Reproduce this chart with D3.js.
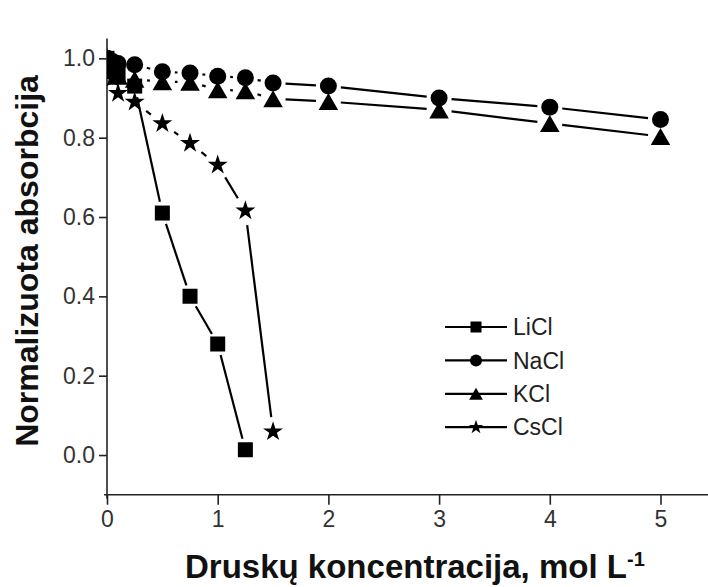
<!DOCTYPE html>
<html>
<head>
<meta charset="utf-8">
<script src="https://cdn.jsdelivr.net/npm/d3@7/dist/d3.min.js"></script>
<style>
  html, body { margin: 0; padding: 0; background: #fff; }
  svg { display: block; }
</style>
</head>
<body>
<svg id="chart" width="708" height="587"></svg>
<script>
// Salt concentration (mol/L) at which absorbance was measured
const concLong  = [0, 0.05, 0.1, 0.25, 0.5, 0.75, 1, 1.25, 1.5, 2, 3, 4, 5];
const concLi    = [0, 0.05, 0.1, 0.25, 0.5, 0.75, 1, 1.25];
const concCs    = [0, 0.05, 0.1, 0.25, 0.5, 0.75, 1, 1.25, 1.5];

// Normalised absorbance for each salt
const liclValues = [1.0, 0.98, 0.96, 0.93, 0.61, 0.40, 0.28, 0.013];
const naclValues = [1.0, 0.992, 0.987, 0.984, 0.966, 0.963, 0.955, 0.951, 0.938, 0.930, 0.900, 0.877, 0.846];
const kclValues  = [1.0, 0.97, 0.955, 0.947, 0.941, 0.940, 0.921, 0.918, 0.898, 0.891, 0.870, 0.836, 0.803];
const csclValues = [1.0, 0.95, 0.912, 0.890, 0.836, 0.786, 0.731, 0.616, 0.059];

const seriesNames = ["LiCl", "NaCl", "KCl", "CsCl"];

// Axis ticks
const xMajorTicks = [0, 1, 2, 3, 4, 5];
const xMinorTicks = [0.5, 1.5, 2.5, 3.5, 4.5];
const yMajorTicks = [0, 0.2, 0.4, 0.6, 0.8, 1.0];
const yMinorTicks = [0.1, 0.3, 0.5, 0.7, 0.9];

const xTitle = "Druskų koncentracija, mol L";
const xTitleSup = "-1";
const yTitle = "Normalizuota absorbcija";

const svg = d3.select("#chart");
const W = 708, H = 587;
const plotLeft = 107, plotBottom = 494.7, plotTop = 38.5;

const x = d3.scaleLinear().domain([0, 5.5]).range([plotLeft, plotLeft + 5.5 * 110.7]);
const y = d3.scaleLinear().domain([-0.1, 1.05]).range([plotBottom, plotTop]);

const font = "'Liberation Sans', Arial, Helvetica, sans-serif";
const axisColor = "#222";
const labelColor = "#333";

// ---- axes ----
const gx = svg.append("g").attr("transform", `translate(0,${plotBottom})`);
gx.call(d3.axisBottom(x).tickValues(xMinorTicks).tickSize(5).tickFormat(""));
gx.call(d3.axisBottom(x).tickValues(xMajorTicks).tickSize(10).tickPadding(6).tickFormat(d3.format("d")));
gx.selectAll(".domain").remove();
gx.append("line").attr("x1", plotLeft - 3).attr("x2", W + 10).attr("y1", 0).attr("y2", 0)
  .attr("stroke", axisColor).attr("stroke-width", 1.6);

const gy = svg.append("g").attr("transform", `translate(${plotLeft},0)`);
gy.call(d3.axisLeft(y).tickValues(yMinorTicks).tickSize(5).tickFormat(""));
gy.call(d3.axisLeft(y).tickValues(yMajorTicks).tickSize(8).tickPadding(4).tickFormat(d3.format(".1f")));
gy.selectAll(".domain").remove();
gy.append("line").attr("x1", 0).attr("x2", 0).attr("y1", plotTop).attr("y2", plotBottom + 4)
  .attr("stroke", axisColor).attr("stroke-width", 1.6);

svg.selectAll(".tick line").attr("stroke", axisColor).attr("stroke-width", 1.6);
svg.selectAll(".tick text")
  .attr("fill", labelColor)
  .style("font-family", font)
  .style("font-size", "23px");

// ---- axis titles ----
const xt = svg.append("text")
  .attr("x", 185).attr("y", 578)
  .attr("fill", "#111")
  .style("font-family", font).style("font-weight", "bold").style("font-size", "33px")
  .text(xTitle);
xt.append("tspan").attr("dy", -12).style("font-size", "20px").text(xTitleSup);

svg.append("text")
  .attr("transform", "translate(38,261) rotate(-90)")
  .attr("text-anchor", "middle")
  .attr("fill", "#111")
  .style("font-family", font).style("font-weight", "bold").style("font-size", "32px")
  .text(yTitle);

// ---- markers ----
function markerPath(kind, s) {
  const p = d3.path();
  if (kind === "square") {
    p.rect(-s / 2, -s / 2, s, s);
    return p.toString();
  }
  if (kind === "circle") {
    p.arc(0, 0, s / 2, 0, 2 * Math.PI);
    p.closePath();
    return p.toString();
  }
  if (kind === "triangle") {
    const w = s * 1.15, h = s;
    p.moveTo(0, -h / 2); p.lineTo(w / 2, h / 2); p.lineTo(-w / 2, h / 2); p.closePath();
    return p.toString();
  }
  // star, s = outer diameter
  const r = s / 2;
  return d3.symbol(d3.symbolStar, r * r / 0.8908130915292852)();
}

const series = [
  { name: seriesNames[0], xs: concLi,   ys: liclValues, kind: "square",   size: 15 },
  { name: seriesNames[1], xs: concLong, ys: naclValues, kind: "circle",   size: 17 },
  { name: seriesNames[2], xs: concLong, ys: kclValues,  kind: "triangle", size: 17 },
  { name: seriesNames[3], xs: concCs,   ys: csclValues, kind: "star",     size: 21 }
];

svg.append("clipPath").attr("id", "plotClip")
  .append("rect").attr("x", plotLeft).attr("y", 0).attr("width", W - plotLeft).attr("height", plotBottom);

const plot = svg.append("g").attr("clip-path", "url(#plotClip)");

series.forEach(s => {
  const pts = s.xs.map((v, i) => [x(v), y(s.ys[i])]);
  const gap = s.size / 2 + 4;
  const g = plot.append("g");
  for (let i = 0; i < pts.length - 1; i++) {
    const [x1, y1] = pts[i], [x2, y2] = pts[i + 1];
    const d = Math.hypot(x2 - x1, y2 - y1);
    if (d <= 2 * gap) continue;
    const ux = (x2 - x1) / d, uy = (y2 - y1) / d;
    g.append("line")
      .attr("x1", x1 + ux * gap).attr("y1", y1 + uy * gap)
      .attr("x2", x2 - ux * gap).attr("y2", y2 - uy * gap)
      .attr("stroke", "#000").attr("stroke-width", 2.2);
  }
  g.selectAll("path.m").data(pts).join("path")
    .attr("class", "m")
    .attr("transform", d => `translate(${d[0]},${d[1]})`)
    .attr("d", markerPath(s.kind, s.size))
    .attr("fill", "#000");
});

// ---- legend ----
const legendMarkerSize = { square: 11, circle: 12, triangle: 12, star: 15 };
const lg = svg.append("g").attr("transform", "translate(445,327)");
series.forEach((s, i) => {
  const row = lg.append("g").attr("transform", `translate(0,${i * 33.4})`);
  row.append("line").attr("x1", 0).attr("x2", 62).attr("y1", 0).attr("y2", 0)
    .attr("stroke", "#000").attr("stroke-width", 2.2);
  row.append("path").attr("transform", "translate(31,0)")
    .attr("d", markerPath(s.kind, legendMarkerSize[s.kind]))
    .attr("fill", "#000");
  row.append("text").attr("x", 68).attr("y", 0).attr("dy", "0.36em")
    .attr("fill", "#222")
    .style("font-family", font).style("font-size", "23px")
    .text(s.name);
});
</script>
</body>
</html>
